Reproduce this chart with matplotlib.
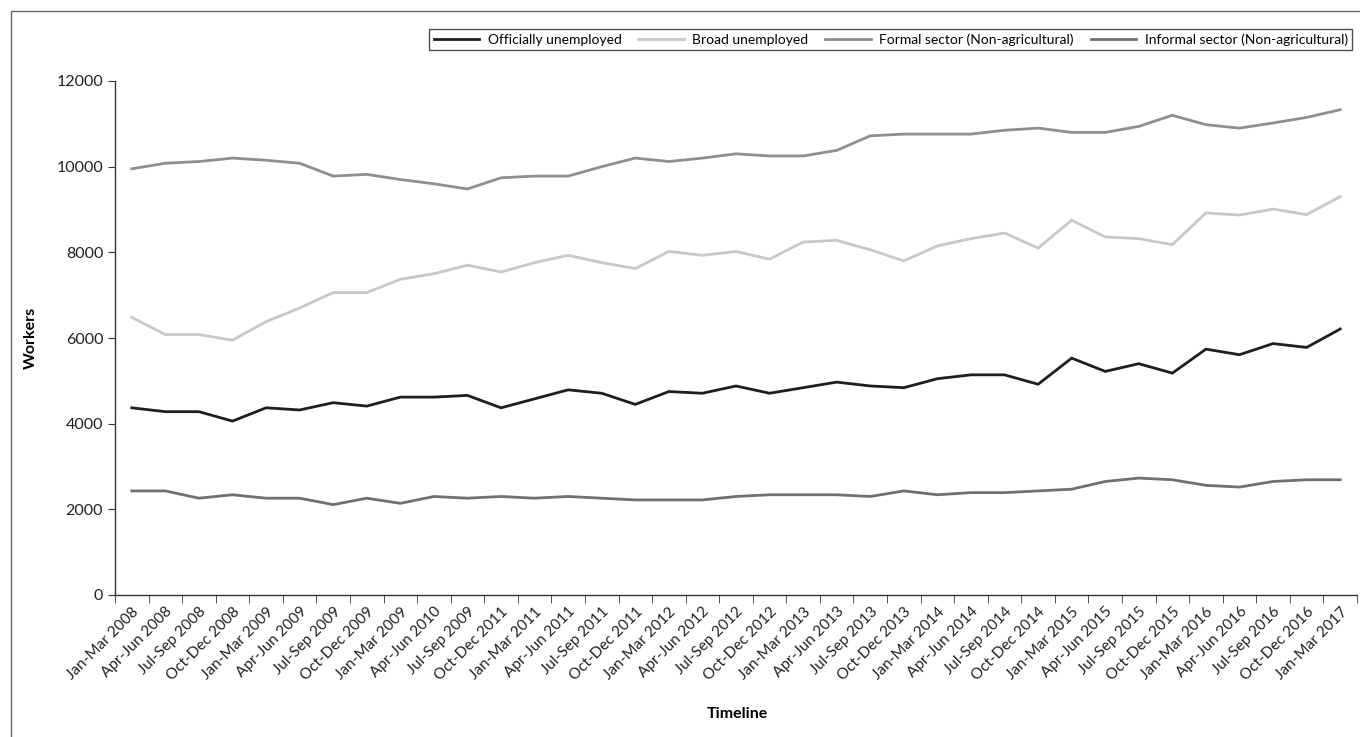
import numpy as np
import matplotlib
matplotlib.use("Agg")
import matplotlib.pyplot as plt
from matplotlib.patches import Rectangle

plt.rcParams['font.family'] = ['Lato', 'DejaVu Sans']

quarters = ["Jan-Mar 2008", "Apr-Jun 2008", "Jul-Sep 2008", "Oct-Dec 2008",
            "Jan-Mar 2009", "Apr-Jun 2009", "Jul-Sep 2009", "Oct-Dec 2009",
            "Jan-Mar 2009", "Apr-Jun 2010", "Jul-Sep 2009", "Oct-Dec 2011",
            "Jan-Mar 2011", "Apr-Jun 2011", "Jul-Sep 2011", "Oct-Dec 2011",
            "Jan-Mar 2012", "Apr-Jun 2012", "Jul-Sep 2012", "Oct-Dec 2012",
            "Jan-Mar 2013", "Apr-Jun 2013", "Jul-Sep 2013", "Oct-Dec 2013",
            "Jan-Mar 2014", "Apr-Jun 2014", "Jul-Sep 2014", "Oct-Dec 2014",
            "Jan-Mar 2015", "Apr-Jun 2015", "Jul-Sep 2015", "Oct-Dec 2015",
            "Jan-Mar 2016", "Apr-Jun 2016", "Jul-Sep 2016", "Oct-Dec 2016",
            "Jan-Mar 2017"]

official = [4370, 4280, 4280, 4060, 4370, 4320, 4490, 4410, 4620, 4620,
            4660, 4370, 4580, 4790, 4710, 4450, 4750, 4710, 4880, 4710,
            4840, 4970, 4880, 4840, 5050, 5140, 5140, 4920, 5530, 5220,
            5400, 5180, 5740, 5610, 5870, 5780, 6210]

broad = [6480, 6080, 6080, 5950, 6380, 6700, 7060, 7060, 7370, 7500,
         7700, 7540, 7760, 7930, 7760, 7620, 8020, 7930, 8020, 7840,
         8240, 8280, 8060, 7800, 8150, 8320, 8450, 8100, 8750, 8360,
         8320, 8180, 8920, 8870, 9010, 8880, 9300]

formal = [9950, 10080, 10120, 10200, 10150, 10080, 9780, 9820, 9700, 9600,
          9480, 9740, 9780, 9780, 10000, 10200, 10120, 10200, 10300, 10250,
          10250, 10380, 10720, 10760, 10760, 10760, 10850, 10900, 10800, 10800,
          10940, 11200, 10980, 10900, 11020, 11150, 11330]

informal = [2430, 2430, 2260, 2340, 2260, 2260, 2110, 2260, 2140, 2300,
            2260, 2300, 2260, 2300, 2260, 2220, 2220, 2220, 2300, 2340,
            2340, 2340, 2300, 2430, 2340, 2390, 2390, 2430, 2470, 2650,
            2730, 2690, 2560, 2520, 2650, 2690, 2690]

series = [
    ("Officially unemployed", official, "#1e1e1e"),
    ("Broad unemployed", broad, "#c8c8c8"),
    ("Formal sector (Non-agricultural)", formal, "#8f8f8f"),
    ("Informal sector (Non-agricultural)", informal, "#707070"),
]

fig = plt.figure(figsize=(13.6, 7.37), dpi=100)
ax = fig.add_axes([115 / 1360, 1 - 595 / 737, 1242 / 1360, 514 / 737])

x = np.arange(len(quarters))
for name, vals, col in series:
    ax.plot(x, vals, color=col, lw=2.0, label=name, solid_joinstyle='miter')

ax.set_xlim(-0.5, len(quarters) - 0.5)
ax.set_ylim(0, 12000)
ax.set_yticks(np.arange(0, 12001, 2000))

ax.set_xticks(x)
ax.set_xticklabels(quarters, rotation=45, ha='right', rotation_mode='anchor',
                   fontsize=11, color='#222222')
ax.tick_params(axis='x', which='major', length=0, pad=7)
ax.set_xticks(np.arange(-0.5, len(quarters), 1), minor=True)
ax.tick_params(axis='x', which='minor', length=6, color='#333333')
ax.tick_params(axis='y', length=5, color='#333333', labelsize=11.5,
               labelcolor='#222222')

for s in ['top', 'right']:
    ax.spines[s].set_visible(False)
for s in ['left', 'bottom']:
    ax.spines[s].set_color('#333333')
    ax.spines[s].set_linewidth(1.0)

ax.set_ylabel("Workers", fontsize=11.5, fontweight='bold')
ax.yaxis.set_label_coords(-(115 - 38) / 1242, 0.5)
fig.text(737 / 1360, 1 - 714 / 737, "Timeline", fontsize=11.5,
         fontweight='bold', ha='center', va='center')

leg = fig.legend(loc='upper right', bbox_to_anchor=(1359 / 1360, 1 - 22 / 737),
                 ncol=4, fontsize=10, frameon=True, fancybox=False,
                 edgecolor='#222222', handlelength=3.3, columnspacing=1.2,
                 handletextpad=0.6, borderpad=0.3)
leg.get_frame().set_linewidth(1.0)

# outer chart border
fig.patches.append(Rectangle((11 / 1360, -0.1), 1.2, 1 - 11 / 737 + 0.1,
                             transform=fig.transFigure, fill=False,
                             edgecolor='#666666', lw=1.0, zorder=0))

fig.savefig("out.png", dpi=100)
